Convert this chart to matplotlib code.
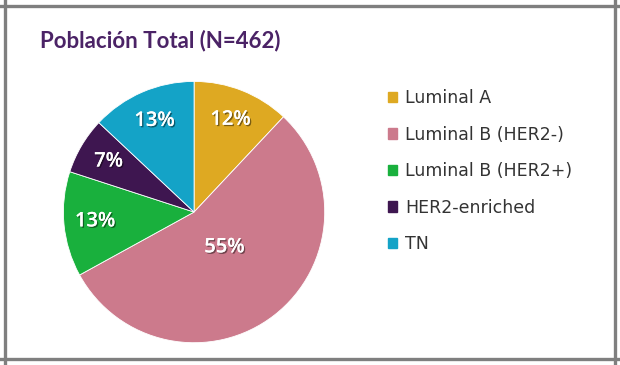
import matplotlib
matplotlib.use("Agg")
import matplotlib.pyplot as plt
import matplotlib.patheffects as pe
from matplotlib.lines import Line2D
import numpy as np

plt.rcParams['font.family'] = ['Lato', 'DejaVu Sans']

# data
labels = ['Luminal A', 'Luminal B (HER2-)', 'Luminal B (HER2+)', 'HER2-enriched', 'TN']
values = [12, 55, 13, 7, 13]
colors = ['#DEA922', '#CC7A8C', '#19B03D', '#3E1650', '#14A3C7']
title = 'Población Total (N=462)'

fig = plt.figure(figsize=(6.2, 3.65), dpi=100, facecolor='white')

# pie
ax = fig.add_axes([0.1, 0.0575, 0.426, 0.723])
wedges, _, autotexts = ax.pie(
    values, colors=colors, startangle=90, counterclock=False,
    autopct='%d%%', pctdistance=0.76,
    wedgeprops=dict(edgecolor='white', linewidth=0.6),
    textprops=dict(color='white', fontsize=14.5, fontweight='semibold', family='Open Sans'))
ax.set_xlim(-1.01, 1.01)
ax.set_ylim(-1.01, 1.01)
ax.set_aspect('equal')

shadow = [pe.withSimplePatchShadow(offset=(1, -1), shadow_rgbFace='black', alpha=0.45), pe.Normal()]
for i, t in enumerate(autotexts):
    t.set_path_effects(shadow)
    # the big slice label sits closer to the centre
    if values[i] == max(values):
        x, y = t.get_position()
        t.set_position((x * 0.5, y * 0.5 + 0.03))

# legend
handles = [plt.Rectangle((0, 0), 1, 1, color=c) for c in colors]
fig.legend(handles, labels, loc='upper left', bbox_to_anchor=(0.6, 0.799),
           frameon=False, labelspacing=1.07,
           handlelength=0.55, handleheight=0.55, handletextpad=0.45,
           labelcolor='#333333', prop=dict(family='DejaVu Sans', size=12.5))

# title
fig.text(40 / 620, 1 - 41 / 365, title, fontsize=16, fontweight='bold',
         color='#4B2366', ha='left', va='center')

# frame lines
lc = '#7F7F7F'
fig.add_artist(Line2D([0, 1], [1 - 6 / 365] * 2, color=lc, lw=2.4, transform=fig.transFigure))
fig.add_artist(Line2D([0, 1], [1 - 359 / 365] * 2, color=lc, lw=2.4, transform=fig.transFigure))
fig.add_artist(Line2D([5 / 620] * 2, [0, 1], color=lc, lw=2.4, transform=fig.transFigure))
fig.add_artist(Line2D([615 / 620] * 2, [0, 1], color=lc, lw=2.4, transform=fig.transFigure))

fig.savefig('out.png', dpi=100, facecolor='white')
